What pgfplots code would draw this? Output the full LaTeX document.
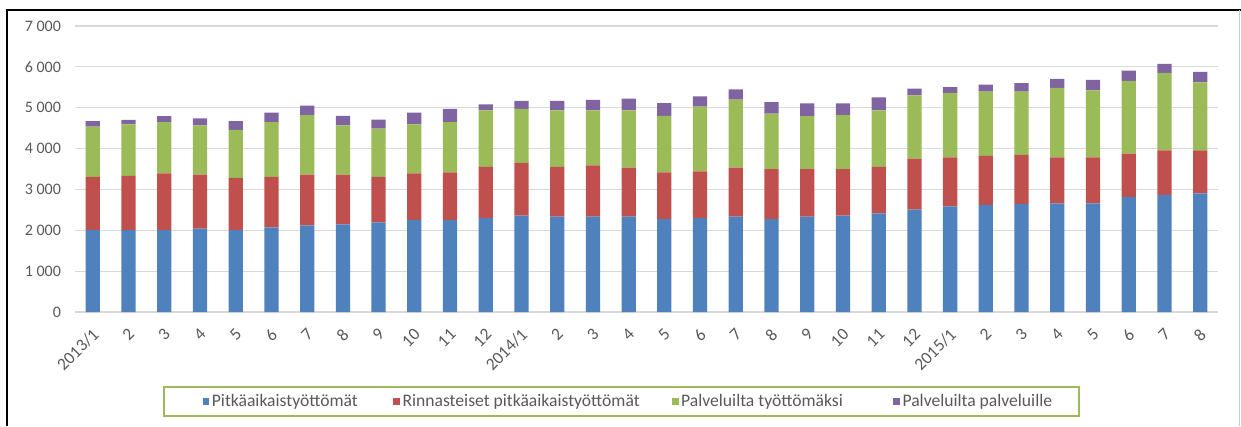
\documentclass[border=0pt]{standalone}
\usepackage{pgfplots}
\pgfplotsset{compat=1.18}
\usepackage{pgfplotstable}
\usepackage{fontspec}
\setmainfont{Carlito}
\definecolor{cblue}{HTML}{4F81BD}
\definecolor{cred}{HTML}{C0504D}
\definecolor{cgreen}{HTML}{9BBB59}
\definecolor{cpurple}{HTML}{8064A2}
\definecolor{tgray}{HTML}{595959}
\definecolor{ggray}{HTML}{D9D9D9}
\pgfplotstableread{
x blue red green purple
0 2010 1295 1230 140
1 2005 1330 1255 115
2 2005 1390 1255 145
3 2040 1320 1210 170
4 2005 1275 1175 220
5 2070 1235 1345 230
6 2120 1240 1460 230
7 2145 1215 1210 230
8 2195 1110 1185 220
9 2250 1145 1200 285
10 2250 1170 1230 320
11 2300 1255 1380 145
12 2360 1290 1320 195
13 2335 1220 1380 230
14 2335 1255 1345 260
15 2335 1200 1400 285
16 2275 1145 1380 310
17 2300 1145 1580 255
18 2335 1200 1665 250
19 2275 1225 1355 285
20 2335 1165 1295 310
21 2360 1140 1320 285
22 2415 1140 1380 320
23 2505 1250 1550 165
24 2585 1200 1580 140
25 2620 1200 1575 170
26 2645 1200 1550 205
27 2660 1125 1700 220
28 2660 1125 1640 255
29 2815 1060 1780 250
30 2870 1085 1900 220
31 2905 1050 1665 260
}\datatable
\begin{document}
\begin{tikzpicture}
\useasboundingbox (0,0) rectangle (930.75pt,-319.5pt);
\begin{axis}[
  at={(56.25pt,-234pt)}, anchor=south west,
  scale only axis, width=857.25pt, height=214.5pt,
  ybar stacked, bar width=10.7pt,
  xmin=-0.5, xmax=31.5, ymin=0, ymax=7000,
  xtick=data,
  xticklabels={2013/1,2,3,4,5,6,7,8,9,10,11,12,2014/1,2,3,4,5,6,7,8,9,10,11,12,2015/1,2,3,4,5,6,7,8},
  x tick label style={xshift=3pt, yshift=-14pt, rotate=45, anchor=east, font=\fontsize{13}{15}\selectfont, text=tgray, inner sep=1pt},
  ytick={0,1000,...,7000},
  yticklabels={0,1 000,2 000,3 000,4 000,5 000,6 000,7 000},
  y tick label style={font=\fontsize{12}{14}\selectfont, text=tgray, xshift=-7pt},
  ymajorgrids, grid style={ggray, line width=0.8pt},
  major tick length=0pt,
  axis line style={draw=none},
  axis x line*=bottom, axis y line*=left,
  x axis line style={draw=ggray, line width=0.8pt},
  legend columns=4,
  legend style={at={(0.478,-0.259)}, anchor=north, draw=cgreen, line width=1.8pt,
    font=\fontsize{13.2}{15}\selectfont, text=tgray, inner xsep=18pt, inner ysep=3.5pt,
    /tikz/every even column/.append style={column sep=0pt}},
  legend image code/.code={\fill[#1, draw=none] (0pt,-2.5pt) rectangle (5pt,2.5pt);},
]
\addplot[fill=cblue, draw=none, legend image code/.code={\path (-11pt,0pt); \fill[##1, draw=none] (0pt,-2.5pt) rectangle (5pt,2.5pt);}] table[x=x, y=blue] {\datatable};
\addlegendentry{\makebox[134pt][l]{Pitkäaikaistyöttömät}}
\addplot[fill=cred, draw=none] table[x=x, y=red] {\datatable};
\addlegendentry{\makebox[200pt][l]{Rinnasteiset pitkäaikaistyöttömät}}
\addplot[fill=cgreen, draw=none] table[x=x, y=green] {\datatable};
\addlegendentry{\makebox[157pt][l]{Palveluilta työttömäksi}}
\addplot[fill=cpurple, draw=none] table[x=x, y=purple] {\datatable};
\addlegendentry{Palveluilta palveluille}
\end{axis}
\draw[black, line width=1.5pt] (5.25pt,-319.5pt) -- (5.25pt,-7.5pt) -- (930.75pt,-7.5pt);
\draw[black!20, line width=0.8pt] (929.5pt,-7.5pt) -- (929.5pt,-319.5pt);
\end{tikzpicture}
\end{document}
